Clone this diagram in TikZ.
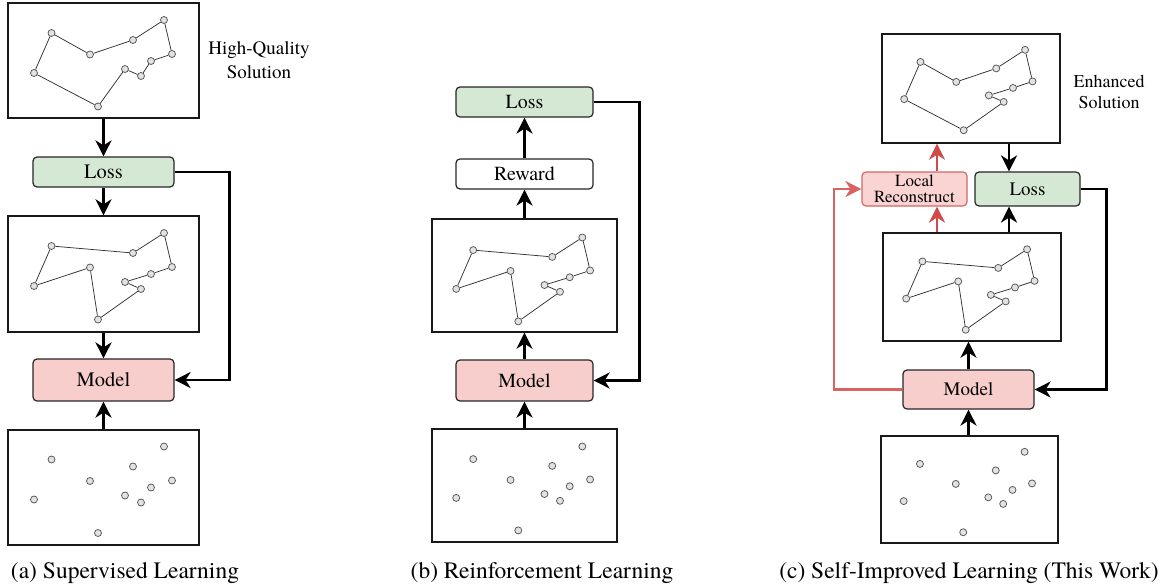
\documentclass[tikz,border=0pt]{standalone}
\usepackage{fontspec}
\IfFontExistsTF{texgyretermes-regular.otf}
  {\setmainfont{texgyretermes-regular.otf}}
  {\setmainfont{Liberation Serif}}
\usetikzlibrary{arrows.meta}
\definecolor{lossgreen}{HTML}{D5E8D4}
\definecolor{modelred}{HTML}{F8CECC}
\definecolor{localfill}{HTML}{FAD3D3}
\definecolor{redline}{HTML}{D04A4A}
\definecolor{redleft}{HTML}{D96262}
\definecolor{redborder}{HTML}{D06868}
\definecolor{ptfill}{HTML}{E2E2E2}
\definecolor{ptdraw}{HTML}{555555}
\newcommand\placepts[4]{%
  \foreach \i/\px/\py in {1/43.5/30,2/82/51.5,3/125/37,4/156/17,5/164/51,6/143/58,7/133/73,8/117/66,9/90/103.5,10/26/70}
    {\node[pt] (#1\i) at ({#2+#4*\px},{#3+#4*\py}) {};}}
\newcommand\tourHQ[1]{\draw[tour] (#11)--(#12)--(#13)--(#14)--(#15)--(#16)--(#17)--(#18)--(#19)--(#110)--(#11);}
\newcommand\tourEN[1]{\draw[tour] (#11)--(#12)--(#13)--(#14)--(#15)--(#16)--(#18)--(#17)--(#19)--(#110)--(#11);}
\newcommand\tourMO[1]{\draw[tour] (#11)--(#13)--(#14)--(#15)--(#16)--(#18)--(#17)--(#19)--(#12)--(#110)--(#11);}
\begin{document}
\begin{tikzpicture}[x=1pt,y=-1pt,
  pt/.style={circle,draw=ptdraw,fill=ptfill,line width=0.75pt,inner sep=0pt,minimum size=7pt},
  tour/.style={draw=black!80,line width=0.75pt},
  solbox/.style={draw=black!90,line width=1.4pt,fill=white,inner sep=0pt},
  rbox/.style={draw=black!85,line width=1.2pt,rounded corners=4pt,inner sep=0pt,align=center},
  arr/.style={line width=2.6pt,-{Stealth[length=16pt,width=16pt,inset=5pt]}},
  redarr/.style={draw=redline,line width=2.5pt,-{Stealth[length=16pt,width=16pt,inset=5pt]}},
  capt/.style={font=\fontsize{23.5}{28}\selectfont,anchor=base,inner sep=0pt},
  lab/.style={align=center,inner sep=0pt}]
\useasboundingbox (0,0) rectangle (1172,586);

% ---------------- (a) ----------------
\node[solbox,minimum width=191pt,minimum height=115pt] (topA) at (103.5,60.5) {};
\node[solbox,minimum width=191pt,minimum height=116pt] (midA) at (103.5,274) {};
\node[solbox,minimum width=191pt,minimum height=115pt] (botA) at (103.5,487.5) {};
\placepts{ta}{8}{3}{1}
\placepts{ma}{8}{216}{1}
\placepts{ba}{8}{429.5}{1}
\tourHQ{ta}
\tourMO{ma}
\node[rbox,fill=lossgreen,minimum width=141pt,minimum height=30pt,font=\fontsize{20.5}{24}\selectfont] (lossA) at (103.5,172) {Loss};
\node[rbox,fill=modelred,minimum width=141pt,minimum height=42pt,font=\fontsize{20.5}{24}\selectfont] (modelA) at (103.5,380) {Model};
\draw[arr] (topA.south) -- (lossA.north);
\draw[arr] (lossA.south) -- (midA.north);
\draw[arr] (midA.south) -- (modelA.north);
\draw[arr] (botA.north) -- (modelA.south);
\draw[arr] (lossA.east) -- ++(55,0) |- (modelA.east);
\node[lab,font=\fontsize{19}{23.5}\selectfont] (hqlab) at (259,60) {High-Quality\\Solution};
\node[capt] (captA) at (125,578) {(a) Supervised Learning};

% ---------------- (b) ----------------
\node[solbox,minimum width=185pt,minimum height=113pt] (midB) at (524.5,275.5) {};
\node[solbox,minimum width=185pt,minimum height=113pt] (botB) at (524.5,485.5) {};
\placepts{mb}{431}{221}{0.97}
\placepts{bb}{431}{430}{0.97}
\tourMO{mb}
\node[rbox,fill=lossgreen,minimum width=137pt,minimum height=30pt,font=\fontsize{20}{24}\selectfont] (lossB) at (524.5,102) {Loss};
\node[rbox,fill=white,minimum width=137pt,minimum height=30pt,font=\fontsize{20}{24}\selectfont] (rewardB) at (524.5,174) {Reward};
\node[rbox,fill=modelred,minimum width=137pt,minimum height=41pt,font=\fontsize{20}{24}\selectfont] (modelB) at (524.5,380.5) {Model};
\draw[arr] (rewardB.north) -- (lossB.south);
\draw[arr] (midB.north) -- (rewardB.south);
\draw[arr] (modelB.north) -- (midB.south);
\draw[arr] (botB.north) -- (modelB.south);
\draw[arr] (lossB.east) -- ++(46,0) |- (modelB.east);
\node[capt] (captB) at (542,578) {(b) Reinforcement Learning};

% ---------------- (c) ----------------
\node[solbox,minimum width=178pt,minimum height=109pt] (topC) at (971,88.5) {};
\node[solbox,minimum width=178pt,minimum height=108pt] (midC) at (972,287) {};
\node[solbox,minimum width=177pt,minimum height=107pt] (botC) at (969.5,489.5) {};
\placepts{tc}{880}{34}{0.93}
\placepts{mc}{882}{233.5}{0.93}
\placepts{bc}{879.5}{436}{0.93}
\tourEN{tc}
\tourMO{mc}
\node[rbox,fill=localfill,draw=redborder,minimum width=105pt,minimum height=34pt,font=\fontsize{17}{16.5}\selectfont] (localC) at (914.5,189) {Local\\Reconstruct};
\node[rbox,fill=lossgreen,minimum width=105pt,minimum height=34pt,font=\fontsize{19}{23}\selectfont] (lossC) at (1027.5,189) {Loss};
\node[rbox,fill=modelred,minimum width=131pt,minimum height=39pt,font=\fontsize{19}{23}\selectfont] (modelC) at (968.5,389.5) {Model};
\draw[redarr] ([xshift=-35pt]midC.north) -- ([xshift=-35pt]midC.north |- localC.south);
\draw[redarr] ([xshift=-34pt]topC.south |- localC.north) -- ([xshift=-34pt]topC.south);
\draw[arr] ([xshift=38pt]topC.south) -- ([xshift=38pt]topC.south |- lossC.north);
\draw[arr] ([xshift=37pt]midC.north) -- ([xshift=37pt]midC.north |- lossC.south);
\draw[arr] (modelC.north) -- (modelC.north |- midC.south);
\draw[arr] (modelC.south |- botC.north) -- (modelC.south);
\draw[arr] (lossC.east) -- ++(26,0) |- (modelC.east);
\draw[redarr,draw=redleft,line width=2.1pt] (modelC.west) -- ++(-68,0) |- (localC.west);
\node[lab,font=\fontsize{18}{21}\selectfont] (enlab) at (1109,92) {Enhanced\\Solution};
\node[capt] (captC) at (969,578) {(c) Self-Improved Learning (This Work)};
\end{tikzpicture}
\end{document}
